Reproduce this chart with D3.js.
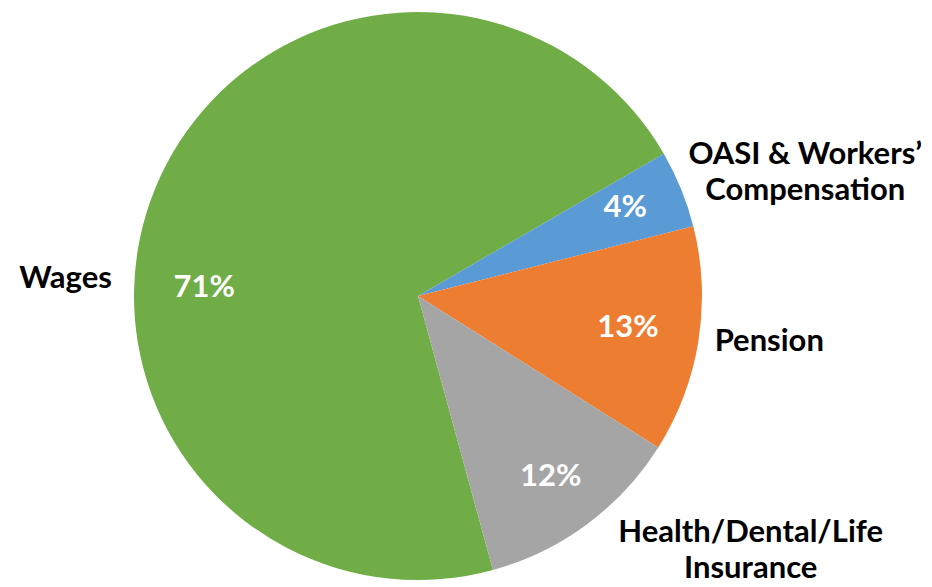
<html>
<head>
  <title>Compensation pie</title>
  <script src="https://d3js.org/d3.v7.min.js"></script>
  <style>
    body { margin: 0; background: #fff; }
    text { font-family: Lato, "Open Sans", sans-serif; font-weight: 700; }
  </style>
</head>
<body>
<script>
  // data (slice shares in percent, clockwise)
  var categories = ["Wages", "OASI & Workers’ Compensation", "Pension", "Health/Dental/Life Insurance"];
  var labelLines = [["Wages"], ["OASI & Workers’", "Compensation"], ["Pension"], ["Health/Dental/Life", "Insurance"]];
  var shares = [70.9, 4.4, 12.9, 11.8];
  var colors = ["#70AD47", "#5B9BD5", "#ED7D31", "#A5A5A5"];

  // label placement: angle nudge (deg) from the slice middle, and radius
  var pctNudge = [-19.7, -1.4, -1, 0];
  var pctRadius = [214, 226, 212, 223];
  var catNudge = [-19.2, 4.2, -1.9, -16.2];
  var catRadius = [353, 407, 354, 418];

  var width = 932, height = 587;
  var cx = 418, cy = 296, radius = 284;
  var fontSize = 31, lineH = 36, capH = fontSize * 0.72;
  var startDeg = 164.7;

  var svg = d3.select("body").append("svg")
      .attr("width", width)
      .attr("height", height);

  var g = svg.append("g")
      .attr("transform", "translate(" + cx + "," + cy + ")");

  var pie = d3.pie()
      .sort(null)
      .value(function(d) { return d; })
      .startAngle(startDeg * Math.PI / 180)
      .endAngle(startDeg * Math.PI / 180 + 2 * Math.PI);

  var arc = d3.arc().innerRadius(0).outerRadius(radius);
  var arcs = pie(shares);

  g.selectAll("path.slice").data(arcs).enter()
      .append("path")
      .attr("class", "slice")
      .attr("d", arc)
      .attr("fill", function(d, i) { return colors[i]; });

  function polar(d, nudge, r) {
    var a = (d.startAngle + d.endAngle) / 2 + nudge * Math.PI / 180;
    return [r * Math.sin(a), -r * Math.cos(a)];
  }

  // percentage labels inside the slices
  g.selectAll("text.pct").data(arcs).enter()
      .append("text")
      .attr("class", "pct")
      .attr("text-anchor", "middle")
      .attr("font-size", fontSize)
      .attr("fill", "#fff")
      .attr("x", function(d, i) { return polar(d, pctNudge[i], pctRadius[i])[0]; })
      .attr("y", function(d, i) { return polar(d, pctNudge[i], pctRadius[i])[1] + capH / 2; })
      .text(function(d) { return Math.round(d.data) + "%"; });

  // category labels outside
  var cat = g.selectAll("text.cat").data(arcs).enter()
      .append("text")
      .attr("class", "cat")
      .attr("text-anchor", "middle")
      .attr("font-size", fontSize)
      .attr("fill", "#000");

  cat.each(function(d, i) {
    var p = polar(d, catNudge[i], catRadius[i]);
    var lines = labelLines[i];
    var y0 = p[1] - (lines.length - 1) * lineH / 2 + capH / 2;
    d3.select(this).selectAll("tspan").data(lines).enter()
        .append("tspan")
        .attr("x", p[0])
        .attr("y", function(l, k) { return y0 + k * lineH; })
        .text(function(l) { return l; });
  });
</script>
</body>
</html>
